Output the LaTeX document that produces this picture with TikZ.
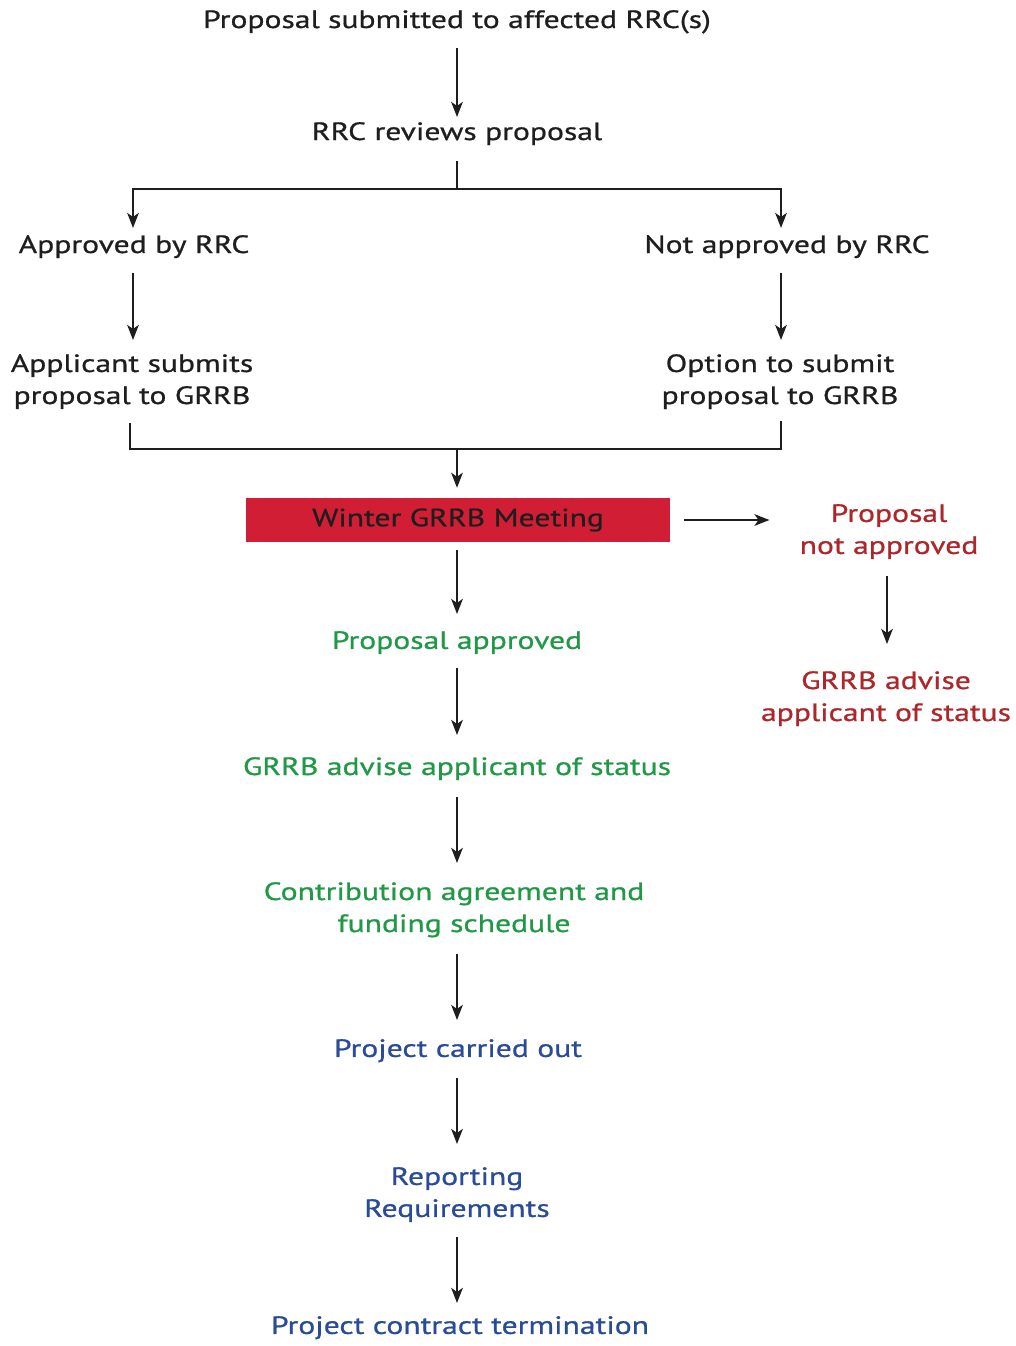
\documentclass[tikz,border=0pt]{standalone}
\usepackage{fontspec}
\setmainfont{PT Sans}[FakeStretch=1.265,FakeBold=0.8]
\usetikzlibrary{arrows.meta}
\definecolor{boxred}{RGB}{210,30,52}
\definecolor{txtgreen}{RGB}{32,152,70}
\definecolor{txtblue}{RGB}{42,75,150}
\definecolor{txtdred}{RGB}{172,38,42}
\definecolor{txtdark}{RGB}{30,30,30}
\begin{document}
\begin{tikzpicture}[x=1pt,y=-1pt,
  lbl/.style={anchor=north,inner sep=0pt,align=center,font=\fontsize{25}{32}\selectfont,text=txtdark},
  grn/.style={lbl,text=txtgreen},
  blu/.style={lbl,text=txtblue},
  dred/.style={lbl,text=txtdred},
  redbox/.style={fill=boxred,minimum width=424pt,minimum height=44pt,inner sep=0pt,font=\fontsize{25}{32}\selectfont,text=txtdark},
  ln/.style={line width=2.5pt,draw=txtdark},
  arr/.style={ln,-{Stealth[length=15pt,width=11.5pt,inset=4pt]}}]
\useasboundingbox (0,0) rectangle (1016,1346);
\coordinate (spine) at (457,0);
\coordinate (leftx) at (133,0);
\coordinate (rightx) at (781,0);
\coordinate (bl) at (130,0);
\coordinate (rx) at (887,0);
\coordinate (split) at (457,189);
\coordinate (merge) at (457,449);
% nodes
\node[lbl] (title) at (457,10) {Proposal submitted to affected RRC(s)};
\node[lbl] (rrc) at (457,122) {RRC reviews proposal};
\node[lbl] (appr) at (134,235) {Approved by RRC};
\node[lbl] (nappr) at (787,235) {Not approved by RRC};
\node[lbl] (appl) at (132,354) {Applicant submits\\proposal to GRRB};
\node[lbl] (opt) at (780,354) {Option to submit\\proposal to GRRB};
\node[redbox] (winter) at (458,520) {Winter GRRB Meeting};
\node[dred] (pna) at (889,504) {Proposal\\not approved};
\node[dred] (radv) at (886,671) {GRRB advise\\applicant of status};
\node[grn] (pa) at (457,631) {Proposal approved};
\node[grn] (gadv) at (457,757) {GRRB advise applicant of status};
\node[grn] (contr) at (454,882) {Contribution agreement and\\funding schedule};
\node[blu] (carried) at (458,1039) {Project carried out};
\node[blu] (rep) at (457,1167) {Reporting\\Requirements};
\node[blu] (term) at (460,1316) {Project contract termination};
% connectors
\draw[arr,shorten <=14pt,shorten >=5pt] (title.south -| spine) -- (rrc.north -| spine);
\draw[ln,shorten <=16pt] (rrc.south -| spine) -- (split);
\draw[arr,shorten >=7pt] (split) -| (appr.north -| leftx);
\draw[arr,shorten >=7pt] (split) -| (nappr.north -| rightx);
\draw[arr,shorten <=15pt,shorten >=14pt] (appr.south -| leftx) -- (appl.north -| leftx);
\draw[arr,shorten <=15pt,shorten >=14pt] (nappr.south -| rightx) -- (opt.north -| rightx);
\draw[ln] ([yshift=-14pt]appl.south -| bl) |- (merge) -| ([yshift=-12pt]opt.south -| rightx);
\draw[arr,shorten >=10pt] (merge) -- (winter.north -| spine);
\draw[arr,shorten <=8pt,shorten >=17pt] (winter.south -| spine) -- (pa.north -| spine);
\draw[arr,shorten <=14pt,shorten >=30pt] (winter.east) -- (winter.east -| pna.west);
\draw[arr,shorten <=17pt,shorten >=27pt] (pna.south -| rx) -- (radv.north -| rx);
\draw[arr,shorten <=14pt,shorten >=22pt] (pa.south -| spine) -- (gadv.north -| spine);
\draw[arr,shorten <=17pt,shorten >=19pt] (gadv.south -| spine) -- (contr.north -| spine);
\draw[arr,shorten <=16pt,shorten >=19pt] (contr.south -| spine) -- (carried.north -| spine);
\draw[arr,shorten <=16pt,shorten >=23pt] (carried.south -| spine) -- (rep.north -| spine);
\draw[arr,shorten <=15pt,shorten >=13pt] (rep.south -| spine) -- (term.north -| spine);
\end{tikzpicture}
\end{document}
